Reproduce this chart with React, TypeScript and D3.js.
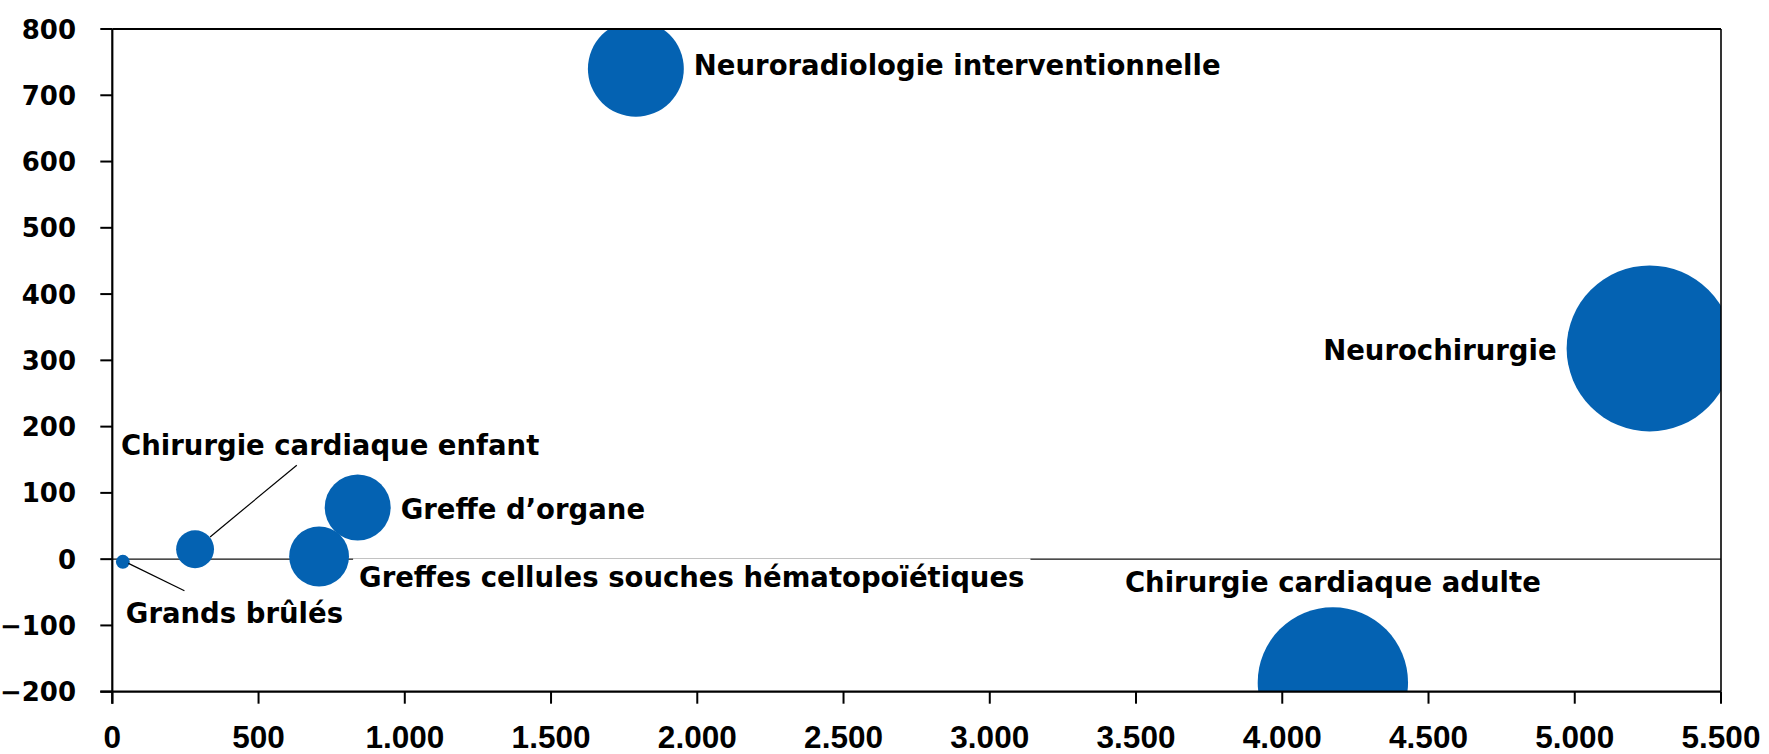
import React, { useEffect, useRef } from "react";
import * as d3 from "d3";

// ---- Data ----
const categories = [
  "Grands brûlés",
  "Chirurgie cardiaque enfant",
  "Greffes cellules souches hématopoïétiques",
  "Greffe d’organe",
  "Neuroradiologie interventionnelle",
  "Neurochirurgie",
  "Chirurgie cardiaque adulte",
];
const xValues = [36, 283, 707, 839, 1790, 5256, 4173];
const yValues = [-4, 15, 4, 78, 740, 318, -186];
const bubbleSizes = [0.7, 5.2, 13, 15.8, 33.4, 100, 82];

const xTicks = [0, 500, 1000, 1500, 2000, 2500, 3000, 3500, 4000, 4500, 5000, 5500];
const yTicks = [-200, -100, 0, 100, 200, 300, 400, 500, 600, 700, 800];

// ---- Label layout (pixel offsets from bubble centre) ----
const labelLayout = [
  { dx: 3, dy: 61, anchor: "start", leader: [5.6, 1.6, 61.6, 29] },
  { dx: -74, dy: -94, anchor: "start", leader: [15, -12.3, 101.7, -84] },
  { dx: 40, dy: 30, anchor: "start", leader: null },
  { dx: 43, dy: 12, anchor: "start", leader: null },
  { dx: 58, dy: 6, anchor: "start", leader: null },
  { dx: -93, dy: 12, anchor: "end", leader: null },
  { dx: 0, dy: -90, anchor: "middle", leader: null },
];

const W = 1769;
const H = 754;
const left = 112.3;
const right = 1721;
const top = 29;
const bottom = 691.7;
const BLUE = "#0462B2";

export default function App() {
  const ref = useRef<SVGSVGElement | null>(null);

  useEffect(() => {
    const svg = d3.select(ref.current);
    svg.selectAll("*").remove();

    const x = d3.scaleLinear().domain([0, 5500]).range([left, right]);
    const y = d3.scaleLinear().domain([-200, 800]).range([bottom, top]);
    const r = d3.scaleSqrt().domain([0, 100]).range([0, 83]);

    svg
      .append("defs")
      .append("clipPath")
      .attr("id", "plotclip")
      .append("rect")
      .attr("x", left)
      .attr("y", top)
      .attr("width", right - left)
      .attr("height", bottom - top);

    // zero line
    svg
      .append("line")
      .attr("x1", left)
      .attr("x2", right)
      .attr("y1", y(0))
      .attr("y2", y(0))
      .attr("stroke", "#111")
      .attr("stroke-width", 1.3);

    // bubbles
    const g = svg.append("g").attr("clip-path", "url(#plotclip)");
    categories.forEach((c, i) => {
      g.append("circle")
        .attr("cx", x(xValues[i]))
        .attr("cy", y(yValues[i]))
        .attr("r", r(bubbleSizes[i]))
        .attr("fill", BLUE);
    });

    // frame lines
    svg
      .append("line")
      .attr("x1", left)
      .attr("x2", right)
      .attr("y1", top)
      .attr("y2", top)
      .attr("stroke", "#000")
      .attr("stroke-width", 2.2);
    svg
      .append("line")
      .attr("x1", right)
      .attr("x2", right)
      .attr("y1", top)
      .attr("y2", bottom)
      .attr("stroke", "#000")
      .attr("stroke-width", 1.6);

    // y axis
    const yAxis = svg.append("g");
    yAxis
      .append("line")
      .attr("x1", left)
      .attr("x2", left)
      .attr("y1", top)
      .attr("y2", bottom + 12)
      .attr("stroke", "#000")
      .attr("stroke-width", 2.2);
    yTicks.forEach((t) => {
      yAxis
        .append("line")
        .attr("x1", left - 12)
        .attr("x2", left)
        .attr("y1", y(t))
        .attr("y2", y(t))
        .attr("stroke", "#000")
        .attr("stroke-width", 2);
      yAxis
        .append("text")
        .attr("x", 76)
        .attr("y", y(t) + 9.5)
        .attr("text-anchor", "end")
        .attr("font-family", "'DejaVu Sans', sans-serif")
        .attr("font-weight", "bold")
        .attr("font-size", 26)
        .attr("fill", "#000")
        .text(d3.format("d")(t));
    });

    // x axis
    const xAxis = svg.append("g");
    xAxis
      .append("line")
      .attr("x1", left - 12)
      .attr("x2", right)
      .attr("y1", bottom)
      .attr("y2", bottom)
      .attr("stroke", "#000")
      .attr("stroke-width", 2.2);
    const fmtX = (v: number) => d3.format(",")(v).replace(/,/g, ".");
    xTicks.forEach((t) => {
      xAxis
        .append("line")
        .attr("x1", x(t))
        .attr("x2", x(t))
        .attr("y1", bottom)
        .attr("y2", bottom + 12)
        .attr("stroke", "#000")
        .attr("stroke-width", 2);
      xAxis
        .append("text")
        .attr("x", x(t))
        .attr("y", 747.5)
        .attr("text-anchor", "middle")
        .attr("font-family", "'Liberation Sans', Arial, sans-serif")
        .attr("font-weight", "bold")
        .attr("font-size", 31.5)
        .attr("fill", "#000")
        .text(fmtX(t));
    });

    // labels
    const lg = svg.append("g");
    categories.forEach((c, i) => {
      const cx = x(xValues[i]);
      const cy = y(yValues[i]);
      const L = labelLayout[i];
      if (L.leader) {
        lg.append("line")
          .attr("x1", cx + L.leader[0])
          .attr("y1", cy + L.leader[1])
          .attr("x2", cx + L.leader[2])
          .attr("y2", cy + L.leader[3])
          .attr("stroke", "#000")
          .attr("stroke-width", 1.2);
      }
      const bg = lg.append("rect").attr("fill", "#fff");
      const t = lg
        .append("text")
        .attr("x", cx + L.dx)
        .attr("y", cy + L.dy)
        .attr("text-anchor", L.anchor)
        .attr("font-family", "'DejaVu Sans', sans-serif")
        .attr("font-weight", "bold")
        .attr("font-size", 27.5)
        .attr("fill", "#000")
        .text(c);
      const bb = (t.node() as SVGTextElement).getBBox();
      bg.attr("x", bb.x - 6)
        .attr("y", bb.y - 2)
        .attr("width", bb.width + 12)
        .attr("height", bb.height + 4);
    });
  }, []);

  return (
    <svg
      ref={ref}
      width={W}
      height={H}
      style={{ position: "absolute", left: 0, top: 0, background: "#fff" }}
    />
  );
}
